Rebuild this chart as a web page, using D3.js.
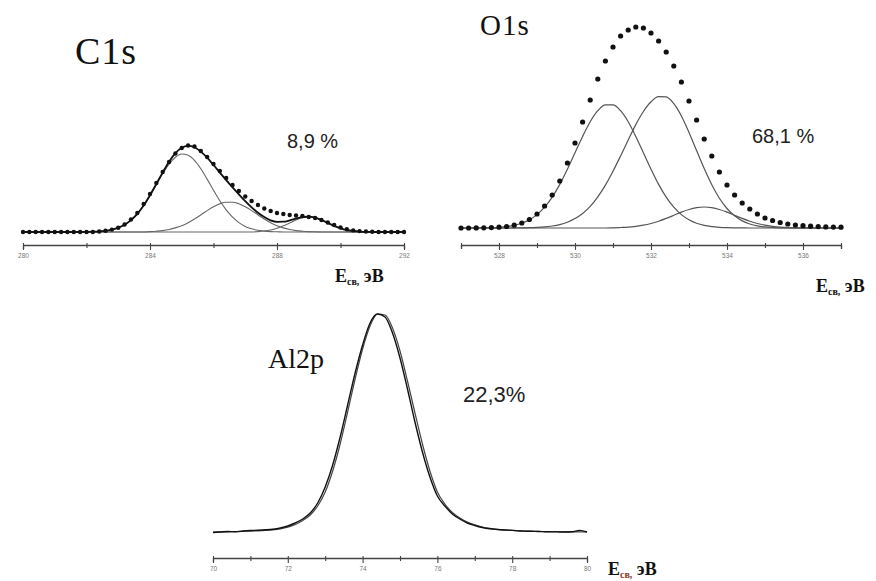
<!DOCTYPE html>
<html><head><meta charset="utf-8">
<script src="https://cdn.jsdelivr.net/npm/d3@7"></script>
<style>body{margin:0;background:#fff}svg{display:block}</style>
</head><body><svg id="c" width="876" height="581"></svg>
<script>
// ---------- C1s ----------
const c1sE = [280.0,280.2,280.4,280.6,280.8,281.0,281.2,281.4,281.6,281.8,282.0,282.2,282.4,282.6,282.8,283.0,283.2,283.4,283.6,283.8,284.0,284.2,284.4,284.6,284.8,285.0,285.2,285.4,285.6,285.8,286.0,286.2,286.4,286.6,286.8,287.0,287.2,287.4,287.6,287.8,288.0,288.2,288.4,288.6,288.8,289.0,289.2,289.4,289.6,289.8,290.0,290.2,290.4,290.6,290.8,291.0,291.2,291.4,291.6,291.8,292.0];
const c1sDots = [0,0,0,0,0,0,0,0,0,0,0,0,0.5,1.2,2.4,4.3,7.5,12.5,19,28,38,49,60,70,78.5,84,86.5,85.5,81,75,68,61,54,47,41,35.5,31,27,23.5,21,19,18,17,16.5,16,15,14,12,9.5,7,4.5,2.8,1.6,0.9,0.5,0.3,0,0,0,0,0];
const c1sSum = [0,0,0,0,0,0,0,0,0,0,0.1,0.3,0.6,1.2,2.4,4.3,7.3,11.9,18.2,26.5,36.8,48.1,59.6,70.3,78.8,84.3,86.1,84.7,80.4,74.3,67.0,59.4,51.9,44.6,37.6,30.8,24.6,19.2,14.9,11.7,10.2,10.3,11.6,13.4,15.0,15.4,14.4,12.0,9.1,6.2,3.7,2.0,1.0,0.4,0.1,0,0,0,0,0,0];
const c1sComp1 = [0,0,0,0,0,0,0,0,0,0,0.1,0.3,0.6,1.2,2.4,4.3,7.3,11.9,18.2,26.5,36.4,47.3,58.2,67.8,74.7,78,76.8,71.7,63.3,52.9,41.8,31.2,22.1,14.8,9.4,5.6,3.2,1.7,0.9,0.4,0.2,0,0,0,0,0,0,0,0,0,0,0,0,0,0,0,0,0,0,0,0];
const c1sComp2 = [0,0,0,0,0,0,0,0,0,0,0,0,0,0,0,0,0,0,0,0,0.4,0.8,1.4,2.5,4.1,6.3,9.3,13,17.1,21.4,25.2,28.2,29.8,29.8,28.2,25.2,21.4,17.1,13,9.3,6.3,4.1,2.5,1.4,0.8,0.4,0.2,0,0,0,0,0,0,0,0,0,0,0,0,0,0];
const c1sComp3 = [0,0,0,0,0,0,0,0,0,0,0,0,0,0,0,0,0,0,0,0,0,0,0,0,0,0,0,0,0,0,0,0,0,0,0,0,0,0.4,1.0,2.0,3.7,6.2,9.1,12.0,14.2,15,14.2,12.0,9.1,6.2,3.7,2.0,1.0,0.4,0.1,0,0,0,0,0,0];
const c1sTicks = [280,282,284,286,288,290,292];
const c1sLabels = [280,284,288,292];

// ---------- O1s ----------
const o1sE = [527.0,527.2,527.4,527.6,527.8,528.0,528.2,528.4,528.6,528.8,529.0,529.2,529.4,529.6,529.8,530.0,530.2,530.4,530.6,530.8,531.0,531.2,531.4,531.6,531.8,532.0,532.2,532.4,532.6,532.8,533.0,533.2,533.4,533.6,533.8,534.0,534.2,534.4,534.6,534.8,535.0,535.2,535.4,535.6,535.8,536.0,536.2,536.4,536.6,536.8,537.0];
const o1sDots = [0,0,0.1,0.2,0.4,0.8,1.5,2.8,5,8.5,14,22,33,47,65,85,106,128,149,167,181,192,198,201,200,195,187,176,162,146,127,108,89,72,56,43,33,25,19,14,10,7.5,5.5,4,3,2.3,1.8,1.4,1.1,0.9,0.8];
const o1sCompA = [0,0,0.1,0.15,0.3,0.7,1.4,2.6,4.7,8.2,13.4,20.8,30.9,43.6,58.8,75.2,91.6,106.3,117.3,123.2,123.2,117.3,106.3,91.6,75.2,58.8,43.6,30.9,20.8,13.4,8.2,4.7,2.6,1.4,0.7,0.3,0.15,0.1,0,0,0,0,0,0,0,0,0,0,0,0,0];
const o1sCompB = [0,0,0,0,0,0,0,0,0.15,0.3,0.6,1.1,2.0,3.4,5.8,9.4,14.5,21.6,31.2,42.9,56.8,72.1,88.0,103.4,116.5,126.2,131.3,131.1,124.3,112.0,95.5,77.4,59.4,43.3,29.8,19.5,12.2,7.1,4.0,2.1,1.1,0.5,0.2,0.1,0,0,0,0,0,0,0];
const o1sCompC = [0,0,0,0,0,0,0,0,0,0,0,0,0,0,0,0,0,0,0,0,0.2,0.5,0.9,1.7,2.8,4.5,6.8,9.6,12.7,15.9,18.5,20.3,21,20.3,18.5,15.9,12.7,9.6,6.8,4.5,2.8,1.7,0.9,0.5,0.2,0.1,0,0,0,0,0];
const o1sTicks = [527,528,529,530,531,532,533,534,535,536,537];
const o1sLabels = [528,530,532,534,536];

// ---------- Al2p ----------
const al2pE = [70.0,70.2,70.4,70.6,70.8,71.0,71.2,71.4,71.6,71.8,72.0,72.2,72.4,72.6,72.8,73.0,73.2,73.4,73.6,73.8,74.0,74.2,74.4,74.6,74.8,75.0,75.2,75.4,75.6,75.8,76.0,76.2,76.4,76.6,76.8,77.0,77.2,77.4,77.6,77.8,78.0,78.2,78.4,78.6,78.8,79.0,79.2,79.4,79.6,79.8,80.0];
const al2pData = [0.5,1.0,1.5,1.2,2.0,2.5,2.8,3.2,3.8,5.0,7,10,14,20,30,46,68,96,128,160,188,210,219,216,200,175,144,111,81,56,37,27,19,14,10,7.5,5.5,4.2,3.5,3.0,2.6,2.0,1.8,1.6,1.4,1.2,1.1,1.0,1.2,2.5,1.0];
const al2pFit = [1.0,1.1,1.2,1.4,1.6,1.9,2.2,2.6,3.2,4.2,5.8,8.5,12.5,18,27,41,62,89,121,154,184,207,219,218,205,182,152,120,89,62,41,29,20.5,15,11,8.2,6,4.6,3.7,3.1,2.6,2.2,1.9,1.7,1.5,1.4,1.3,1.2,1.1,1.0,1.0];
const al2pTicks = [70,71,72,73,74,75,76,77,78,79,80];
const al2pLabels = [70,72,74,76,78,80];

const svg = d3.select('#c');
svg.append('rect').attr('width', 876).attr('height', 581).attr('fill', '#fff');

const SERIF = '"Liberation Serif","Times New Roman",serif';
const SANS = '"Liberation Sans",Arial,sans-serif';

function panel(cfg) {
  const g = svg.append('g');
  const x = d3.scaleLinear().domain(cfg.xDomain).range(cfg.xRange);
  const y = d3.scaleLinear().domain([0, 100]).range([cfg.base, cfg.base - 100]);
  const mk = vals => d3.line().x((d, i) => x(cfg.E[i])).y(d => y(d)).curve(d3.curveMonotoneX)(vals);

  (cfg.comps || []).forEach(c => {
    g.append('path').attr('d', mk(c)).attr('fill', 'none')
      .attr('stroke', cfg.compColor || '#555').attr('stroke-width', cfg.compWidth || 1.1);
  });
  (cfg.lines || []).forEach(l => {
    g.append('path').attr('d', mk(l.v)).attr('fill', 'none')
      .attr('stroke', l.color).attr('stroke-width', l.w);
  });
  if (cfg.dots) {
    g.selectAll('circle.d').data(cfg.dots).join('circle')
      .attr('cx', (d, i) => x(cfg.E[i])).attr('cy', d => y(d))
      .attr('r', cfg.r).attr('fill', '#111');
  }

  // axis
  const ax = g.append('g').attr('transform', `translate(0,${cfg.axisY})`)
    .call(d3.axisBottom(x).tickValues(cfg.ticks).tickSizeOuter(0).tickSize(4)
      .tickFormat(d => cfg.labels.includes(d) ? d : ''));
  ax.select('.domain').attr('stroke', '#444').attr('stroke-width', 1.3);
  ax.selectAll('.tick line').attr('stroke', '#444').attr('stroke-width', 1.1)
    .attr('y1', -2).attr('y2', d => cfg.labels.includes(d) ? 5 : 3);
  ax.selectAll('.tick text').attr('font-family', SANS).attr('font-size', 6.5)
    .attr('fill', '#777').attr('y', 8);

  // unit label
  const t = g.append('text').attr('x', cfg.unit[0]).attr('y', cfg.unit[1])
    .attr('font-family', SERIF).attr('font-weight', 'bold').attr('fill', '#111');
  t.append('tspan').attr('font-size', 18).text('E');
  t.append('tspan').attr('font-size', 10).attr('dy', 2.5).attr('fill', cfg.subColor || '#111').text('св,');
  t.append('tspan').attr('font-size', 18).attr('dy', -2.5).text(' эВ');

  // title and percent
  g.append('text').attr('x', cfg.title[0]).attr('y', cfg.title[1])
    .attr('font-family', SERIF).attr('font-size', cfg.title[2]).attr('fill', '#111')
    .attr('letter-spacing', cfg.title[3] || 0).text(cfg.title[4]);
  g.append('text').attr('x', cfg.pct[0]).attr('y', cfg.pct[1])
    .attr('font-family', SANS).attr('font-size', cfg.pct[2]).attr('fill', '#222')
    .text(cfg.pct[3]);
}

panel({
  E: c1sE, xDomain: [280, 292], xRange: [23, 404], base: 232, axisY: 245,
  comps: [c1sComp1, c1sComp2, c1sComp3], compColor: '#666',
  lines: [{v: c1sSum, color: '#111', w: 1.8}],
  dots: c1sDots, r: 2.2,
  ticks: c1sTicks, labels: c1sLabels,
  unit: [335, 282],
  title: [75, 64, 38, 1, 'C1s'],
  pct: [287, 148, 20, '8,9 %']
});

panel({
  E: o1sE, xDomain: [527, 537], xRange: [461, 841], base: 228, axisY: 245,
  comps: [o1sCompA, o1sCompB, o1sCompC], compColor: '#555', compWidth: 1.2,
  dots: o1sDots, r: 2.6,
  ticks: o1sTicks, labels: o1sLabels,
  unit: [816, 292],
  title: [480, 35, 29, 1, 'O1s'],
  pct: [752, 143, 20, '68,1 %']
});

panel({
  E: al2pE, xDomain: [70, 80], xRange: [213, 587], base: 533, axisY: 558,
  lines: [{v: al2pFit, color: '#444', w: 1.2}, {v: al2pData, color: '#111', w: 1.4}],
  ticks: al2pTicks, labels: al2pLabels,
  unit: [608, 575], subColor: '#8a3a2a',
  title: [268, 368, 28, 0, 'Al2p'],
  pct: [463, 402, 22, '22,3%']
});
</script></body></html>
